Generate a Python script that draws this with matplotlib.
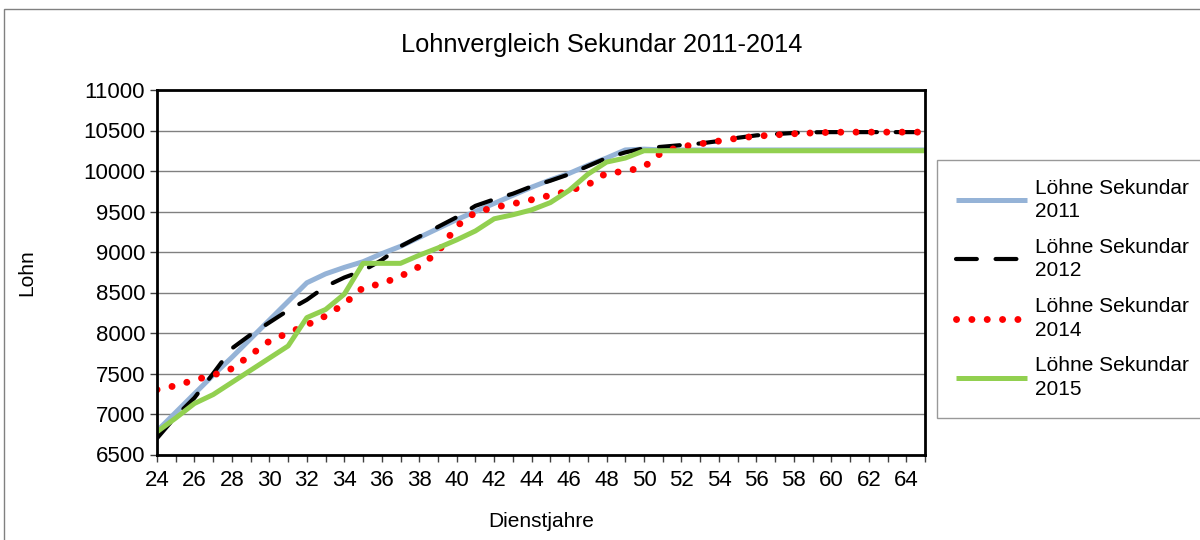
import matplotlib
matplotlib.use('Agg')
import matplotlib.pyplot as plt
from matplotlib.patches import Rectangle

plt.rcParams['font.family'] = ['Liberation Sans', 'DejaVu Sans']

# Dienstjahre 24..65
years = list(range(24, 66))

# Löhne Sekundar 2011
lohn_2011 = [6790, 7020, 7250, 7480, 7700, 7930, 8160, 8390, 8620, 8730,
             8810, 8880, 8980, 9070, 9180, 9290, 9400, 9500, 9600, 9700,
             9800, 9890, 9970, 10070, 10160, 10260, 10270, 10260, 10260, 10260,
             10260, 10260, 10260, 10260, 10260, 10260, 10260, 10260, 10260, 10260,
             10260, 10260]

# Löhne Sekundar 2012
lohn_2012 = [6700, 6970, 7200, 7500, 7810, 7980, 8130, 8280, 8410, 8575,
             8685, 8770, 8900, 9070, 9190, 9310, 9430, 9570, 9650, 9720,
             9810, 9880, 9960, 10060, 10160, 10230, 10280, 10300, 10320, 10340,
             10370, 10410, 10440, 10455, 10470, 10478, 10480, 10480, 10480, 10480,
             10480, 10480]

# Löhne Sekundar 2014
lohn_2014 = [7300, 7350, 7420, 7480, 7560, 7730, 7900, 8000, 8100, 8210,
             8360, 8560, 8610, 8700, 8820, 9000, 9320, 9490, 9550, 9595,
             9645, 9700, 9755, 9830, 9975, 9995, 10050, 10240, 10300, 10335,
             10370, 10405, 10430, 10445, 10460, 10470, 10478, 10480, 10480, 10480,
             10480, 10480]

# Löhne Sekundar 2015
lohn_2015 = [6780, 6950, 7130, 7240, 7390, 7540, 7690, 7840, 8190, 8290,
             8480, 8860, 8860, 8860, 8960, 9050, 9150, 9260, 9410, 9460,
             9520, 9610, 9760, 9960, 10110, 10160, 10250, 10250, 10250, 10250,
             10250, 10250, 10250, 10250, 10250, 10250, 10250, 10250, 10250, 10250,
             10250, 10250]

labels = ['Löhne Sekundar\n2011', 'Löhne Sekundar\n2012',
          'Löhne Sekundar\n2014', 'Löhne Sekundar\n2015']

fig = plt.figure(figsize=(12, 5.4), dpi=100)
ax = fig.add_axes([157 / 1200, 1 - 454.5 / 540, 768 / 1200, 364.5 / 540])

# outer chart frame
fig.patches.append(Rectangle((4 / 1200, -0.1), 1.1, 1 - 9 / 540 + 0.1,
                             transform=fig.transFigure, fill=False,
                             edgecolor='#808080', linewidth=1))

ax.plot(years, lohn_2011, color='#95B3D7', lw=3.6, label=labels[0],
        solid_capstyle='butt')
ax.plot(years, lohn_2012, color='black', lw=3.0, label=labels[1],
        linestyle=(0, (5, 4.5)), dash_capstyle='round')
ax.plot(years, lohn_2014, color='#FF0000', lw=5.0, label=labels[2],
        linestyle=(0, (0.01, 2.2)), dash_capstyle='round')
ax.plot(years, lohn_2015, color='#92D050', lw=3.6, label=labels[3],
        solid_capstyle='butt')

ax.set_xlim(24, 65)
ax.set_ylim(6500, 11000)
ax.set_yticks(range(6500, 11001, 500))
ax.set_xticks(years)
ax.set_xticklabels([str(y) if y % 2 == 0 else '' for y in years])
ax.tick_params(axis='both', labelsize=16, length=5, width=1, color='#404040')
ax.tick_params(axis='x', pad=6)
ax.yaxis.grid(True, color='#808080', linewidth=1)
ax.set_axisbelow(True)
for s in ax.spines.values():
    s.set_linewidth(2)
    s.set_color('black')

ax.set_xlabel('Dienstjahre', fontsize=15, labelpad=15)
ax.set_ylabel('Lohn', fontsize=15, labelpad=34)
fig.suptitle('Lohnvergleich Sekundar 2011-2014', fontsize=18.3,
             x=602 / 1200, y=1 - 45 / 540, va='center')

leg = fig.legend(loc='upper left', bbox_to_anchor=(937 / 1200, 1 - 160 / 540),
                 fontsize=15, frameon=True, fancybox=False, edgecolor='#808080',
                 handlelength=3.4, handletextpad=0.4, labelspacing=0.8,
                 borderpad=0.9, borderaxespad=0)
leg.get_frame().set_linewidth(1)
for t in leg.get_texts():
    t.set_linespacing(1.3)

fig.savefig('out.png', dpi=100)
